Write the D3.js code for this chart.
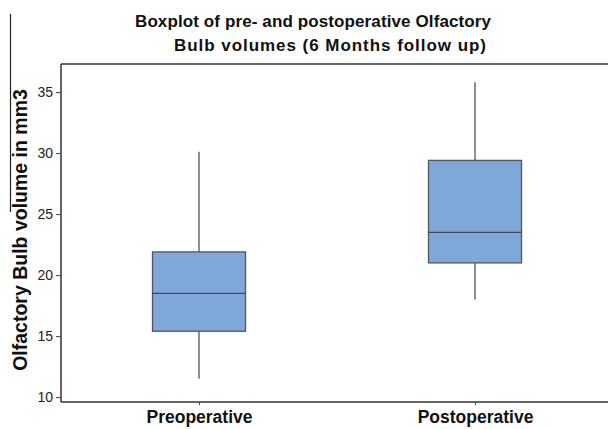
<!DOCTYPE html>
<html><head><meta charset="utf-8">
<script src="https://cdn.jsdelivr.net/npm/d3@7"></script>
<style>body{margin:0;background:#fff}svg{display:block}</style>
</head><body>
<script>
const categories = ["Preoperative", "Postoperative"];
const whiskerLow  = [11.5, 18.0];
const q1          = [15.4, 21.0];
const median      = [18.5, 23.5];
const q3          = [21.9, 29.4];
const whiskerHigh = [30.1, 35.8];
const yTicks = [10, 15, 20, 25, 30, 35];
const titleLines = ["Boxplot of pre- and postoperative Olfactory", "Bulb volumes (6 Months follow up)"];
const yLabel = "Olfactory Bulb volume in mm3";

const W = 608, H = 429;
const m = {left: 61, top: 64, right: -5, bottom: 27};
const svg = d3.select("body").append("svg").attr("width", W).attr("height", H);

const x = d3.scalePoint().domain(categories).range([m.left, W - m.right]).padding(0.5);
const y = d3.scaleLinear().domain([9.6, 37.3]).range([H - m.bottom, m.top]);

const data = categories.map((c, i) => ({c, lo: whiskerLow[i], q1: q1[i], med: median[i], q3: q3[i], hi: whiskerHigh[i]}));
const bw = 93;

const g = svg.append("g");
g.selectAll(".wh").data(data).join("line")
  .attr("x1", d => x(d.c)).attr("x2", d => x(d.c))
  .attr("y1", d => y(d.lo)).attr("y2", d => y(d.hi))
  .attr("stroke", "#6a6a6a").attr("stroke-width", 1.5);
g.selectAll(".box").data(data).join("rect")
  .attr("x", d => x(d.c) - bw / 2).attr("width", bw)
  .attr("y", d => y(d.q3)).attr("height", d => y(d.q1) - y(d.q3))
  .attr("fill", "#7ea8da").attr("stroke", "#555").attr("stroke-width", 1.3);
g.selectAll(".med").data(data).join("line")
  .attr("x1", d => x(d.c) - bw / 2).attr("x2", d => x(d.c) + bw / 2)
  .attr("y1", d => y(d.med)).attr("y2", d => y(d.med))
  .attr("stroke", "#4a4a4a").attr("stroke-width", 1.3);

const fc = "#333";
svg.append("line").attr("x1", m.left).attr("x2", W + 10).attr("y1", m.top).attr("y2", m.top).attr("stroke", fc).attr("stroke-width", 1.5);

const yAxis = svg.append("g").attr("transform", `translate(${m.left},0)`)
  .call(d3.axisLeft(y).tickValues(yTicks).tickSize(5).tickPadding(3));
yAxis.select(".domain").attr("d", `M0,${m.top}V${H - m.bottom}`).attr("stroke", fc).attr("stroke-width", 1.5);
yAxis.selectAll(".tick line").attr("stroke", "#444");
yAxis.selectAll(".tick text").attr("font-family", "Liberation Sans, Arial, sans-serif").attr("font-size", 14).attr("fill", "#222");

const xAxis = svg.append("g").attr("transform", `translate(0,${H - m.bottom})`)
  .call(d3.axisBottom(x).tickSize(3).tickPadding(6));
xAxis.select(".domain").attr("d", `M${m.left},0H${W + 10}`).attr("stroke", fc).attr("stroke-width", 1.5);
xAxis.selectAll(".tick line").attr("stroke", "#444");
xAxis.selectAll(".tick text").attr("font-family", "Liberation Sans, Arial, sans-serif").attr("font-size", 17.5).attr("font-weight", "bold").attr("fill", "#111");

const tx = [313, 330], ty = [27, 51], tl = [356, 312];
svg.selectAll(".title").data(titleLines).join("text")
  .attr("x", (d, i) => tx[i]).attr("y", (d, i) => ty[i])
  .attr("text-anchor", "middle")
  .attr("font-family", "Liberation Sans, Arial, sans-serif").attr("font-size", 17).attr("font-weight", "bold")
  .attr("textLength", (d, i) => tl[i]).attr("lengthAdjust", "spacing")
  .attr("fill", "#111").text(d => d);

svg.append("text").attr("transform", "translate(27,230) rotate(-90)")
  .attr("text-anchor", "middle")
  .attr("font-family", "Liberation Sans, Arial, sans-serif").attr("font-size", 19.5).attr("font-weight", "bold")
  .attr("fill", "#111").text(yLabel);

svg.append("line").attr("x1", 10.5).attr("x2", 10.5).attr("y1", 14).attr("y2", 212).attr("stroke", "#222").attr("stroke-width", 1.2);
</script>
</body></html>
